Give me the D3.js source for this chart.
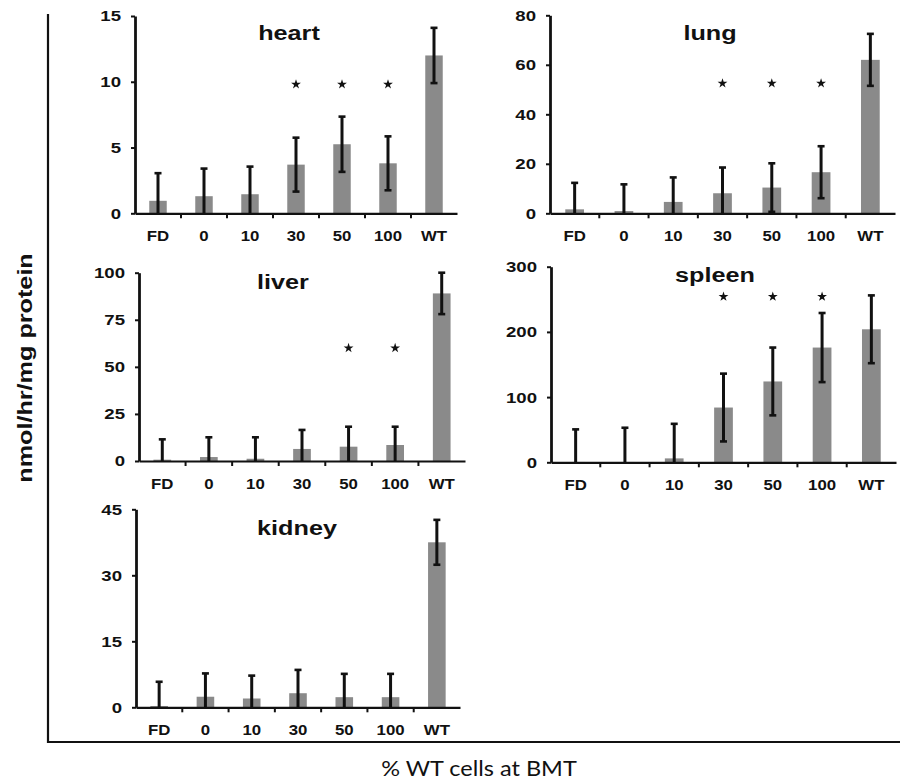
<!DOCTYPE html>
<html>
<head>
<meta charset="utf-8">
<script src="https://cdn.jsdelivr.net/npm/d3@7"></script>
<style>
  body { margin: 0; background: #fff; }
  text { font-family: "Liberation Sans", Arial, sans-serif; fill: #111; }
</style>
</head>
<body>
<svg id="chart" width="900" height="783"></svg>
<script>
// categories (% WT cells at BMT)
var cats = ["FD", "0", "10", "30", "50", "100", "WT"];

// organs, mean and error (half height of the error bar) per category
var organs = ["heart", "lung", "liver", "spleen", "kidney"];

var heartMean  = [0.95, 1.3, 1.45, 3.7, 5.25, 3.8, 12];
var heartErr   = [2.1, 2.1, 2.1, 2.05, 2.1, 2.05, 2.1];
var lungMean   = [1.6, 0.9, 4.6, 8.1, 10.4, 16.6, 62];
var lungErr    = [10.7, 10.8, 9.9, 10.4, 9.8, 10.5, 10.5];
var liverMean  = [0.7, 2.1, 1.2, 6.4, 7.6, 8.5, 89];
var liverErr   = [10.8, 10.5, 11.4, 10.1, 10.6, 9.7, 11];
var spleenMean = [0.5, 0.5, 6, 84, 124, 176, 204];
var spleenErr  = [50, 52.5, 53, 52, 52, 53, 52];
var kidneyMean = [0.3, 2.4, 2.0, 3.2, 2.3, 2.3, 37.5];
var kidneyErr  = [5.5, 5.3, 5.2, 5.3, 5.3, 5.3, 5.1];

// y axis max and ticks
var yMax   = [15, 80, 100, 300, 45];
var yTicks = [[0, 5, 10, 15], [0, 20, 40, 60, 80], [0, 25, 50, 75, 100], [0, 100, 200, 300], [0, 15, 30, 45]];

// significance marks: categories and height (in data units)
var starCats = [["30", "50", "100"], ["30", "50", "100"], ["50", "100"], ["30", "50", "100"], []];
var starAt   = [9.8, 52.5, 60, 254, 0];

var means = [heartMean, lungMean, liverMean, spleenMean, kidneyMean];
var errs  = [heartErr, lungErr, liverErr, spleenErr, kidneyErr];

// panel placement (pixels)
var panels = [
  {x0: 135, x1: 457, top: 16,    zero: 213.3, tx: 289, ty: 40},
  {x0: 550, x1: 895, top: 15.3,  zero: 213.3, tx: 710, ty: 40},
  {x0: 139, x1: 465, top: 272.7, zero: 461,   tx: 283, ty: 289},
  {x0: 551, x1: 896, top: 266.7, zero: 462.3, tx: 715, ty: 281.5},
  {x0: 136, x1: 460, top: 509.3, zero: 707.3, tx: 297, ty: 535}
];

var sx = 1.2; // the scanned lettering is wide

var svg = d3.select("#chart");

// outer frame
svg.append("path")
    .attr("d", "M48,14V742H900")
    .attr("fill", "none")
    .attr("stroke", "#111")
    .attr("stroke-width", 2.2);

svg.append("text")
    .attr("transform", "translate(32,368) rotate(-90) scale(" + sx + ",1)")
    .attr("text-anchor", "middle")
    .style("font-size", "21px")
    .style("font-weight", "bold")
    .text("nmol/hr/mg protein");

svg.append("text")
    .attr("transform", "translate(479,776) scale(1.12,1)")
    .attr("text-anchor", "middle")
    .style("font-family", "Lato, 'Open Sans', sans-serif")
    .style("font-size", "21px")
    .text("% WT cells at BMT");

organs.forEach(function(name, i) {
  var p = panels[i];
  var g = svg.append("g");

  var x = d3.scaleBand().domain(cats).range([p.x0, p.x1]);
  var y = d3.scaleLinear().domain([0, yMax[i]]).range([p.zero, p.top]);
  var bw = x.bandwidth() * 0.38;

  var rows = cats.map(function(c, j) {
    return {cat: c, mean: means[i][j], err: errs[i][j]};
  });

  // bars
  g.selectAll(".bar")
    .data(rows)
   .enter().append("rect")
    .attr("class", "bar")
    .attr("x", d => x(d.cat) + (x.bandwidth() - bw) / 2)
    .attr("width", bw)
    .attr("y", d => y(d.mean))
    .attr("height", d => y(0) - y(d.mean))
    .attr("fill", "#8a8a8a");

  // error bars
  var eb = g.selectAll(".err")
    .data(rows)
   .enter().append("g")
    .attr("class", "err")
    .attr("transform", d => "translate(" + (x(d.cat) + x.bandwidth() / 2) + ",0)");
  eb.append("line")
    .attr("y1", d => y(Math.max(0, d.mean - d.err)))
    .attr("y2", d => y(d.mean + d.err))
    .attr("stroke", "#111")
    .attr("stroke-width", 3);
  eb.append("line")
    .attr("x1", -3.5).attr("x2", 3.5)
    .attr("y1", d => y(d.mean + d.err))
    .attr("y2", d => y(d.mean + d.err))
    .attr("stroke", "#111")
    .attr("stroke-width", 2.6);
  eb.filter(d => d.mean - d.err > 0).append("line")
    .attr("x1", -3.5).attr("x2", 3.5)
    .attr("y1", d => y(d.mean - d.err))
    .attr("y2", d => y(d.mean - d.err))
    .attr("stroke", "#111")
    .attr("stroke-width", 2.6);

  // stars
  g.selectAll(".star")
    .data(starCats[i])
   .enter().append("path")
    .attr("class", "star")
    .attr("d", d3.symbol(d3.symbolStar, 30))
    .attr("transform", d => "translate(" + (x(d) + x.bandwidth() / 2) + "," + y(starAt[i]) + ")")
    .attr("fill", "#111");

  // y axis
  var ya = g.append("g")
      .attr("transform", "translate(" + p.x0 + ",0)")
      .call(d3.axisLeft(y).tickValues(yTicks[i]).tickSize(4).tickSizeOuter(0).tickPadding(10));
  ya.select(".domain").attr("stroke", "#111").attr("stroke-width", 2.8);
  ya.selectAll(".tick line").attr("stroke", "#111").attr("stroke-width", 2);
  ya.selectAll(".tick text")
    .attr("x", -14 / sx)
    .attr("transform", "scale(" + sx + ",1)")
    .style("font-size", "15.5px")
    .style("font-weight", "bold")
    .attr("fill", "#111");

  // x axis
  var xa = g.append("g")
      .attr("transform", "translate(0," + p.zero + ")")
      .call(d3.axisBottom(x).tickSize(0).tickSizeOuter(0).tickPadding(18));
  xa.select(".domain").attr("stroke", "#111").attr("stroke-width", 2.2);
  xa.selectAll(".tick text")
    .attr("transform", "scale(" + sx + ",1)")
    .style("font-size", "14px")
    .style("font-weight", "bold")
    .attr("fill", "#111");
  g.selectAll(".xtick")
    .data(cats.slice(1))
   .enter().append("line")
    .attr("class", "xtick")
    .attr("x1", d => x(d)).attr("x2", d => x(d))
    .attr("y1", p.zero).attr("y2", p.zero + 5)
    .attr("stroke", "#111")
    .attr("stroke-width", 2);

  // title
  g.append("text")
    .attr("transform", "translate(" + p.tx + "," + p.ty + ") scale(" + sx + ",1)")
    .attr("text-anchor", "middle")
    .style("font-size", "21px")
    .style("font-weight", "bold")
    .text(name);
});
</script>
</body>
</html>
